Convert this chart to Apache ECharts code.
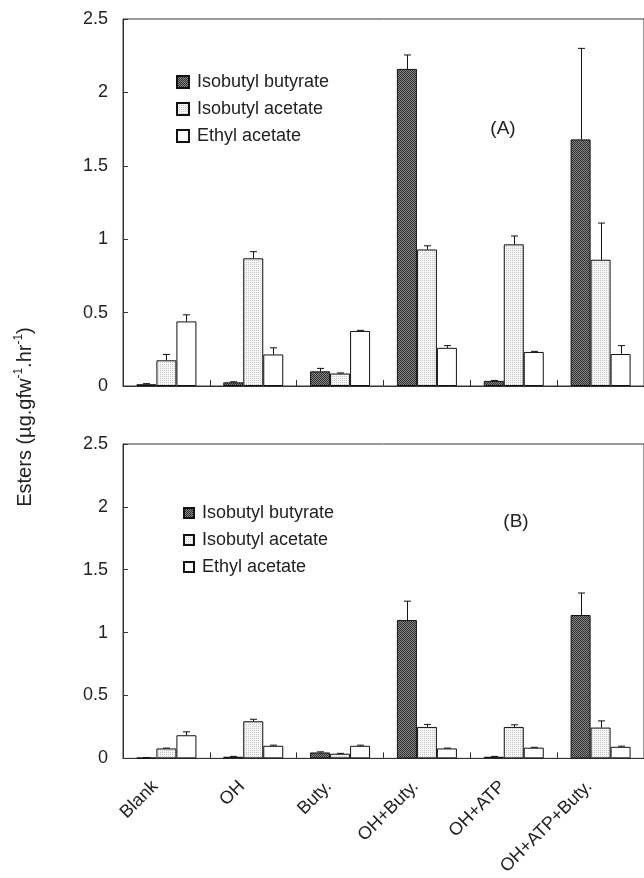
<!DOCTYPE html>
<html>
<head>
<meta charset="utf-8">
<script src="https://cdn.jsdelivr.net/npm/echarts@6/dist/echarts.min.js"></script>
<style>
  html, body { margin: 0; padding: 0; background: #fff; }
  #chart { width: 644px; height: 878px; }
</style>
</head>
<body>
<div id="chart"></div>
<script>
const categories = ['Blank', 'OH', 'Buty.', 'OH+Buty.', 'OH+ATP', 'OH+ATP+Buty.']
const seriesNames = ['Isobutyl butyrate', 'Isobutyl acetate', 'Ethyl acetate']
const yTicks = [0, 0.5, 1, 1.5, 2, 2.5]

// panel (A)
const aButyrate = [0.012, 0.025, 0.1, 2.16, 0.035, 1.68]
const aButyrateErr = [0.004, 0.004, 0.02, 0.095, 0.003, 0.62]
const aIsoAcetate = [0.175, 0.87, 0.085, 0.93, 0.965, 0.86]
const aIsoAcetateErr = [0.04, 0.045, 0.004, 0.025, 0.057, 0.25]
const aEthyl = [0.44, 0.215, 0.375, 0.26, 0.232, 0.218]
const aEthylErr = [0.045, 0.045, 0.004, 0.015, 0.004, 0.057]

// panel (B)
const bButyrate = [0.005, 0.013, 0.047, 1.1, 0.013, 1.14]
const bButyrateErr = [0.002, 0.003, 0.005, 0.15, 0.003, 0.175]
const bIsoAcetate = [0.079, 0.295, 0.037, 0.25, 0.25, 0.245]
const bIsoAcetateErr = [0.003, 0.016, 0.003, 0.02, 0.017, 0.053]
const bEthyl = [0.184, 0.1, 0.1, 0.079, 0.085, 0.092]
const bEthylErr = [0.027, 0.005, 0.005, 0.003, 0.003, 0.005]

const FONT = 'Liberation Sans, Arial, sans-serif'
const BAR_W = 20

function makePattern(size, bg, fg, dots) {
  const c = document.createElement('canvas')
  c.width = size
  c.height = size
  const ctx = c.getContext('2d')
  ctx.fillStyle = bg
  ctx.fillRect(0, 0, size, size)
  ctx.fillStyle = fg
  dots.forEach(([x, y]) => ctx.fillRect(x, y, 1, 1))
  return { image: c, repeat: 'repeat' }
}

const fills = [
  makePattern(2, '#868686', '#303030', [[0, 0], [1, 1]]),
  makePattern(2, '#f6f6f6', '#c8c8c8', [[0, 0]]),
  '#ffffff',
]

function errRender(offset) {
  return (params, api) => {
    const i = api.value(0)
    const v = api.value(1)
    const e = api.value(2)
    const base = api.coord([i, v])
    const top = api.coord([i, v + e])
    const x = Math.round(base[0] + offset) + 0.5
    const style = { stroke: '#111', lineWidth: 1 }
    return {
      type: 'group',
      children: [
        { type: 'line', shape: { x1: x, y1: base[1], x2: x, y2: top[1] }, style },
        { type: 'line', shape: { x1: x - 3.5, y1: top[1], x2: x + 3.5, y2: top[1] }, style },
      ],
    }
  }
}

function panelSeries(idx, vals, errs) {
  const out = []
  vals.forEach((v, k) => {
    out.push({
      name: seriesNames[k],
      type: 'bar',
      xAxisIndex: idx,
      yAxisIndex: idx,
      barWidth: BAR_W,
      barGap: '0%',
      itemStyle: { color: fills[k], borderColor: '#111', borderWidth: 1 },
      data: v,
      z: 2,
    })
  })
  errs.forEach((e, k) => {
    out.push({
      name: 'err' + idx + k,
      type: 'custom',
      xAxisIndex: idx,
      yAxisIndex: idx,
      renderItem: errRender((k - 1) * BAR_W),
      encode: { x: 0, y: 1 },
      data: categories.map((c, i) => [i, vals[k][i], e[i]]),
      z: 3,
      silent: true,
    })
  })
  return out
}

function yAxis(gridIndex) {
  return {
    type: 'value',
    gridIndex,
    min: yTicks[0],
    max: yTicks[yTicks.length - 1],
    interval: 0.5,
    axisLine: { show: true, lineStyle: { color: '#333', width: 1 } },
    axisTick: { show: true, inside: true, length: 5, lineStyle: { color: '#333' } },
    axisLabel: { color: '#222', fontSize: 18, fontFamily: FONT, margin: 15 },
    splitLine: { show: false },
  }
}

function xAxis(gridIndex, showLabels) {
  return {
    type: 'category',
    gridIndex,
    data: categories,
    axisLine: { show: true, lineStyle: { color: '#333', width: 1 } },
    axisTick: { show: true, inside: true, length: 6, lineStyle: { color: '#333' } },
    axisLabel: {
      show: showLabels,
      interval: 0,
      rotate: 45,
      margin: 14,
      padding: [0, 16, 0, 0],
      color: '#222',
      fontSize: 18,
      fontFamily: FONT,
    },
  }
}

function legend(left, top, icon) {
  return {
    data: seriesNames,
    orient: 'vertical',
    left,
    top,
    icon: 'rect',
    itemWidth: icon,
    itemHeight: icon,
    itemGap: 9,
    selectedMode: false,
    textStyle: { fontSize: 18, fontFamily: FONT, color: '#222', lineHeight: 18, padding: [0, 0, 0, 3] },
  }
}

const chart = echarts.init(document.getElementById('chart'), null, { renderer: 'canvas' })

chart.setOption({
  animation: false,
  backgroundColor: '#fff',
  grid: [
    { left: 123, top: 19, width: 528, height: 367, show: true, borderColor: '#333', borderWidth: 1 },
    { left: 123, top: 444, width: 528, height: 316, show: true, borderColor: '#333', borderWidth: 1 },
  ],
  xAxis: [xAxis(0, false), xAxis(1, true)],
  yAxis: [yAxis(0), yAxis(1)],
  legend: [legend(171, 68, 12), legend(178, 499, 10)],
  series: [
    ...panelSeries(0, [aButyrate, aIsoAcetate, aEthyl], [aButyrateErr, aIsoAcetateErr, aEthylErr]),
    ...panelSeries(1, [bButyrate, bIsoAcetate, bEthyl], [bButyrateErr, bIsoAcetateErr, bEthylErr]),
  ],
  graphic: [
    {
      type: 'text',
      x: 503,
      y: 129,
      style: { text: '(A)', fontSize: 19, fontFamily: FONT, fill: '#222', align: 'center', verticalAlign: 'middle' },
    },
    {
      type: 'text',
      x: 516,
      y: 522,
      style: { text: '(B)', fontSize: 19, fontFamily: FONT, fill: '#222', align: 'center', verticalAlign: 'middle' },
    },
    {
      type: 'text',
      x: 24,
      y: 417,
      rotation: Math.PI / 2,
      style: {
        text: '{a|Esters (µg.gfw}{s|-1}{a|.hr}{s|-1}{a|)}',
        align: 'center',
        verticalAlign: 'middle',
        fill: '#222',
        rich: {
          a: { fontSize: 20, fontFamily: FONT, fill: '#222', lineHeight: 22, verticalAlign: 'bottom' },
          s: { fontSize: 12, fontFamily: FONT, fill: '#222', lineHeight: 22, verticalAlign: 'top' },
        },
      },
    },
  ],
})
</script>
</body>
</html>
